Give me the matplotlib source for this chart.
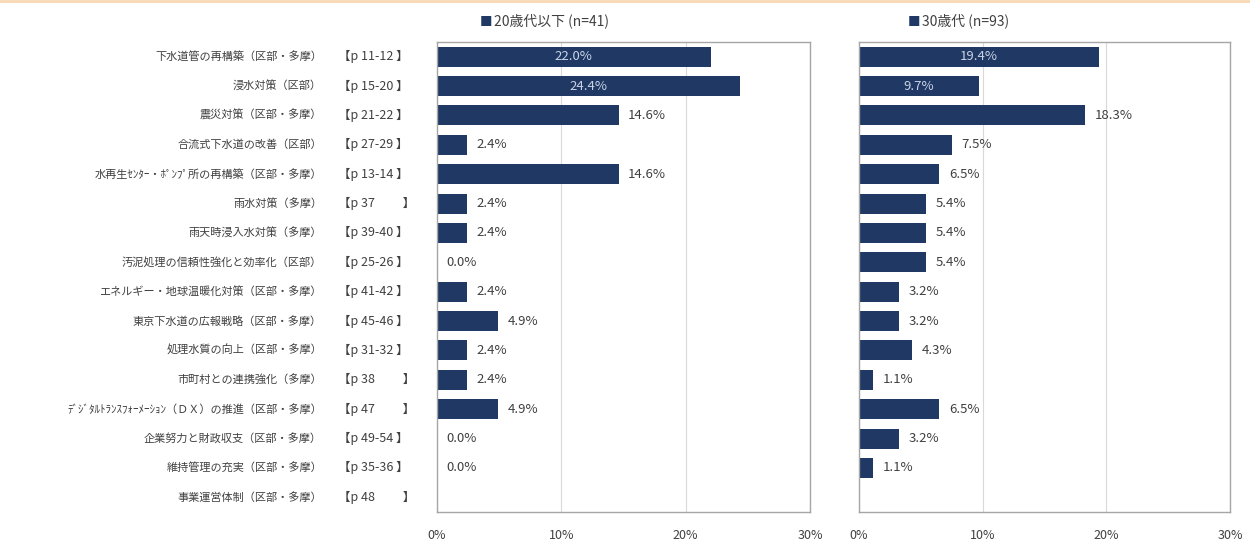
import numpy as np
import matplotlib
matplotlib.use("Agg")
import matplotlib.pyplot as plt
from matplotlib.transforms import blended_transform_factory
from matplotlib.lines import Line2D

plt.rcParams['font.family'] = ['Noto Sans CJK JP', 'DejaVu Sans']

categories = [
    "下水道管の再構築（区部・多摩）",
    "浸水対策（区部）",
    "震災対策（区部・多摩）",
    "合流式下水道の改善（区部）",
    "水再生ｾﾝﾀｰ・ﾎﾟﾝﾌﾟ所の再構築（区部・多摩）",
    "雨水対策（多摩）",
    "雨天時浸入水対策（多摩）",
    "汚泥処理の信頼性強化と効率化（区部）",
    "エネルギー・地球温暖化対策（区部・多摩）",
    "東京下水道の広報戦略（区部・多摩）",
    "処理水質の向上（区部・多摩）",
    "市町村との連携強化（多摩）",
    "ﾃﾞｼﾞﾀﾙﾄﾗﾝｽﾌｫｰﾒｰｼｮﾝ（ＤＸ）の推進（区部・多摩）",
    "企業努力と財政収支（区部・多摩）",
    "維持管理の充実（区部・多摩）",
    "事業運営体制（区部・多摩）",
]
pages = [
    "【p 11-12 】", "【p 15-20 】", "【p 21-22 】", "【p 27-29 】", "【p 13-14 】",
    "【p 37　　 】", "【p 39-40 】", "【p 25-26 】", "【p 41-42 】", "【p 45-46 】",
    "【p 31-32 】", "【p 38　　 】", "【p 47　　 】", "【p 49-54 】", "【p 35-36 】",
    "【p 48　　 】",
]
age20 = [22.0, 24.4, 14.6, 2.4, 14.6, 2.4, 2.4, 0.0, 2.4, 4.9, 2.4, 2.4, 4.9, 0.0, 0.0, np.nan]
age30 = [19.4, 9.7, 18.3, 7.5, 6.5, 5.4, 5.4, 5.4, 3.2, 3.2, 4.3, 1.1, 6.5, 3.2, 1.1, np.nan]
series_names = ["20歳代以下 (n=41)", "30歳代 (n=93)"]

navy = "#1f3864"
text_col = "#404040"

fig = plt.figure(figsize=(12.5, 5.45), dpi=100)
ax1 = fig.add_axes([437 / 1250, 1 - 512 / 545, 373 / 1250, 470 / 545])
ax2 = fig.add_axes([859 / 1250, 1 - 512 / 545, 371 / 1250, 470 / 545])

y = np.arange(len(categories))

for ax, vals, name, lx in [(ax1, age20, series_names[0], 480 / 1250),
                           (ax2, age30, series_names[1], 908 / 1250)]:
    vals = np.array(vals)
    ax.barh(y, np.nan_to_num(vals), height=0.68, color=navy)
    ax.set_xlim(0, 30)
    ax.set_ylim(len(categories) - 0.5, -0.5)
    ax.set_xticks([0, 10, 20, 30])
    ax.set_xticklabels(["0%", "10%", "20%", "30%"], color=text_col, fontsize=9)
    ax.set_yticks([])
    ax.tick_params(axis='x', length=0, pad=12)
    ax.grid(axis='x', color="#d9d9d9", linewidth=0.8)
    ax.set_axisbelow(True)
    for s in ax.spines.values():
        s.set_color("#a6a6a6")
        s.set_linewidth(1.0)
    for i, v in enumerate(vals):
        if np.isnan(v):
            continue
        if i < 2:
            ax.text(v / 2, i, f"{v:.1f}%", ha='center', va='center',
                    color="#c9d3e6", fontsize=9.5)
        else:
            ax.annotate(f"{v:.1f}%", (v, i), xytext=(7, 0), textcoords='offset points',
                        ha='left', va='center', color=text_col, fontsize=9.5)
    fig.text(lx, 1 - 22 / 545, "■", color=navy, fontsize=9, va='center', ha='left')
    fig.text(lx + 14 / 1250, 1 - 21 / 545, name, color=text_col, fontsize=10,
             va='center', ha='left')

trans = blended_transform_factory(fig.transFigure, ax1.transData)
for i, (c, p) in enumerate(zip(categories, pages)):
    ax1.text(322 / 1250, i, c, transform=trans, ha='right', va='center',
             fontsize=8, color=text_col)
    ax1.text(338 / 1250, i, p, transform=trans, ha='left', va='center',
             fontsize=9, color=text_col)

fig.add_artist(Line2D([0, 1], [0.998, 0.998], transform=fig.transFigure,
                      color="#f8d8b4", linewidth=2))

fig.savefig("out.png", dpi=100)
